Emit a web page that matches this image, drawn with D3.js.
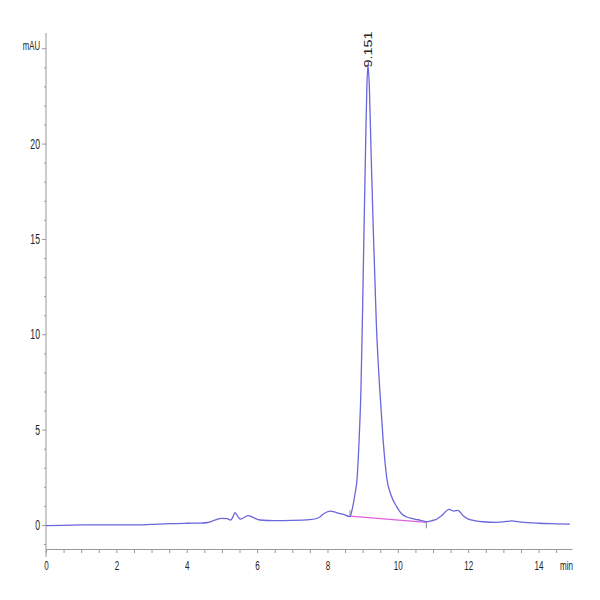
<!DOCTYPE html>
<html>
<head>
<meta charset="utf-8">
<script src="https://cdn.jsdelivr.net/npm/d3@7"></script>
<style>
  body { margin: 0; background: #fff; }
  text { font-family: "Liberation Sans", Arial, sans-serif; fill: #222; }
</style>
</head>
<body>
<svg id="chart"></svg>
<script>
// trace (min, mAU)
const times = [0, 0.5, 1.0, 1.5, 2.0, 2.5, 3.0, 3.5, 4.0, 4.4, 4.6, 4.8, 4.99, 5.15, 5.25, 5.32, 5.37, 5.45, 5.52,
  5.62, 5.75, 5.9, 6.08, 6.5, 7.0, 7.5, 7.75, 7.9, 8.07, 8.25, 8.45, 8.64, 8.7, 8.78, 8.84, 8.9, 8.95, 9.0, 9.04,
  9.08, 9.12, 9.15, 9.19, 9.24, 9.30, 9.39, 9.49, 9.58, 9.69, 9.8, 9.97, 10.1, 10.25, 10.45, 10.65, 10.81, 10.95,
  11.1, 11.25, 11.46, 11.59, 11.71, 11.85, 12.0, 12.42, 12.8, 13.0, 13.23, 13.5, 14.0, 14.5, 14.89]
const signal = [-0.03, -0.02, 0.0, 0.01, 0.01, 0.0, 0.03, 0.07, 0.09, 0.1, 0.13, 0.25, 0.35, 0.33, 0.26, 0.45, 0.65,
  0.45, 0.31, 0.38, 0.49, 0.38, 0.26, 0.23, 0.24, 0.28, 0.38, 0.6, 0.73, 0.65, 0.55, 0.44, 0.8, 1.6, 2.4, 4.5, 7.0,
  11.5, 15.6, 19.5, 23.0, 24.1, 23.0, 19.5, 15.6, 10.5, 7.0, 4.5, 2.4, 1.6, 0.95, 0.6, 0.42, 0.32, 0.24, 0.17, 0.22,
  0.3, 0.5, 0.82, 0.73, 0.77, 0.5, 0.31, 0.17, 0.14, 0.16, 0.21, 0.15, 0.09, 0.06, 0.04]

const xLabels = [0, 2, 4, 6, 8, 10, 12, 14]
const yLabels = [0, 5, 10, 15, 20]
const peakTime = 9.151
const peakTop = 24.1
const peakText = '9.151'
const baseStart = [8.64, 0.46]
const baseEnd = [10.81, 0.14]

const W = 600, H = 600
const svg = d3.select('#chart').attr('width', W).attr('height', H)

const x = d3.scaleLinear().domain([0, 14.95]).range([46, 572])
const y = d3.scaleLinear().domain([-1.26, 25.8]).range([549, 33])
const squeeze = 0.62

// x axis
const xAxis = svg.append('g')
  .attr('transform', `translate(0,${y(-1.26)})`)
  .call(d3.axisBottom(x).tickValues(d3.range(0, 15, 0.5)).tickSize(4).tickSizeOuter(0)
    .tickFormat(d => xLabels.includes(d) ? d : ''))
xAxis.select('.domain').attr('stroke', '#999')
xAxis.selectAll('.tick line').attr('stroke', '#999')
xAxis.selectAll('.tick text')
  .attr('transform', `scale(${squeeze},1)`)
  .attr('x', 0)
  .attr('y', 12)
  .style('font-size', '13px')

// y axis
const yAxis = svg.append('g')
  .attr('transform', `translate(${x(0)},0)`)
  .call(d3.axisLeft(y).tickValues(d3.range(-1, 26, 1)).tickSizeOuter(0)
    .tickSize(2)
    .tickFormat(d => yLabels.includes(d) ? d : ''))
yAxis.select('.domain').attr('stroke', '#999').attr('d', `M0,${y(25.8)}V${y(-1.26) + 8}`)
yAxis.selectAll('.tick line').attr('stroke', '#999')
  .attr('x2', d => (yLabels.includes(d) || d === 25) ? -4 : -2)
yAxis.selectAll('.tick text')
  .attr('transform', `scale(${squeeze},1)`)
  .attr('x', -6 / squeeze)
  .style('font-size', '14px')

svg.append('text')
  .attr('x', 40 / squeeze).attr('y', y(25) - 2)
  .attr('transform', `scale(${squeeze},1)`)
  .attr('text-anchor', 'end')
  .attr('dominant-baseline', 'middle')
  .style('font-size', '12.5px')
  .text('mAU')

svg.append('text')
  .attr('x', 573 / squeeze).attr('y', y(-1.26) + 21)
  .attr('transform', `scale(${squeeze},1)`)
  .attr('text-anchor', 'end')
  .style('font-size', '13px')
  .text('min')

// integration baseline
svg.append('line')
  .attr('x1', x(baseStart[0])).attr('y1', y(baseStart[1]))
  .attr('x2', x(baseEnd[0])).attr('y2', y(baseEnd[1]))
  .attr('stroke', '#e060e0').attr('stroke-width', 1.2)
svg.append('line')
  .attr('x1', x(baseStart[0])).attr('x2', x(baseStart[0]))
  .attr('y1', y(baseStart[1])).attr('y2', y(baseStart[1]) - 6)
  .attr('stroke', '#888')
svg.append('line')
  .attr('x1', x(baseEnd[0])).attr('x2', x(baseEnd[0]))
  .attr('y1', y(baseEnd[1])).attr('y2', y(baseEnd[1]) + 6)
  .attr('stroke', '#888')

// trace
const line = d3.line()
  .x(i => x(times[i]))
  .y(i => y(signal[i]))
  .curve(d3.curveMonotoneX)
svg.append('path')
  .attr('d', line(d3.range(times.length)))
  .attr('fill', 'none')
  .attr('stroke', '#6a66dc')
  .attr('stroke-width', 1.3)

// peak label, stretched along its length like the source
svg.append('text')
  .attr('transform', `translate(${x(peakTime) + 4},${y(peakTop) + 2}) rotate(-90) scale(1.25,1)`)
  .style('font-size', '11.5px')
  .text(peakText)
</script>
</body>
</html>
